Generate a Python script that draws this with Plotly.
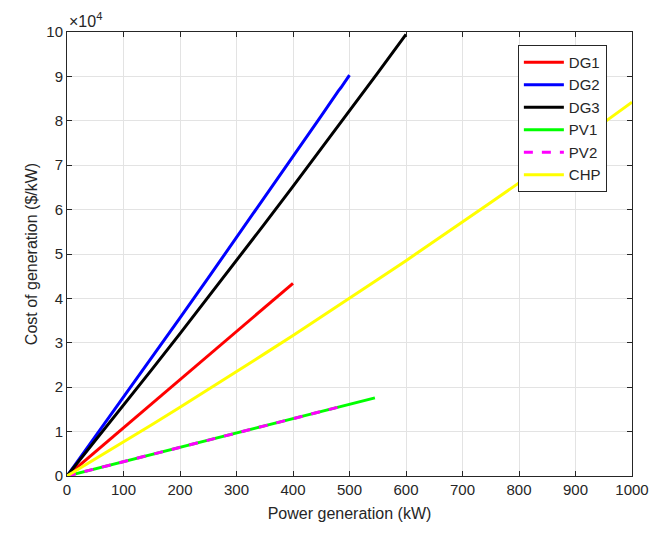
import plotly.graph_objects as go

# Generation cost curves, cost in $ vs. output power in kW
p_dg1 = [0, 50, 100, 150, 200, 250, 300, 350, 400]
c_dg1 = [0, 5400, 10800, 16200, 21600, 27100, 32500, 37900, 43400]

p_dg2 = [0, 50, 100, 150, 200, 250, 300, 350, 400, 450, 480, 485, 500]
c_dg2 = [0, 8840, 17720, 26640, 35610, 44620, 53670, 62770, 71910, 81090, 86700, 87500, 90300]

p_dg3 = [0, 50, 100, 150, 200, 250, 300, 350, 400, 450, 480, 485, 550, 600]
c_dg3 = [0, 7910, 15900, 23950, 32070, 40250, 48510, 56830, 65220, 73680, 78800, 79700, 90810, 99470]

p_pv1 = [0, 50, 100, 150, 200, 250, 300, 350, 400, 450, 470, 500, 545]
c_pv1 = [0, 1620, 3230, 4850, 6460, 8080, 9690, 11310, 12920, 14540, 15200, 16150, 17600]

p_pv2 = [0, 50, 100, 150, 200, 250, 300, 350, 400, 450, 470, 480]
c_pv2 = [0, 1620, 3230, 4850, 6460, 8080, 9690, 11310, 12920, 14540, 15200, 15500]

p_chp = [0, 50, 100, 150, 200, 250, 300, 350, 400, 450, 500, 550, 600, 650, 700,
         750, 800, 850, 900, 950, 1000]
c_chp = [0, 3810, 7660, 11560, 15500, 19480, 23500, 27560, 31660, 35810, 40000,
         44230, 48500, 52820, 57180, 61580, 66020, 70500, 75020, 79590, 84200]

x_ticks = list(range(0, 1001, 100))
y_ticks = list(range(0, 100001, 10000))
y_tick_text = [str(v // 10000) for v in y_ticks]

series = [
    ("DG1", p_dg1, c_dg1, "#ff0000", "solid"),
    ("DG2", p_dg2, c_dg2, "#0000ff", "solid"),
    ("DG3", p_dg3, c_dg3, "#000000", "solid"),
    ("PV1", p_pv1, c_pv1, "#00ff00", "solid"),
    ("PV2", p_pv2, c_pv2, "#ff00ff", "dash"),
    ("CHP", p_chp, c_chp, "#ffff00", "solid"),
]

fig = go.Figure()
for name, px, cy, color, dash in series:
    fig.add_trace(go.Scatter(
        x=px, y=cy, name=name, mode="lines",
        line=dict(color=color, width=3, dash=dash),
    ))

font = "Liberation Sans, Arial, Helvetica, sans-serif"
axis_common = dict(
    showline=True, linecolor="#262626", linewidth=1, mirror="ticks",
    ticks="inside", ticklen=5, tickcolor="#262626",
    showgrid=True, gridcolor="#e3e3e3", gridwidth=1,
    zeroline=False, tickfont=dict(family=font, size=15, color="#262626"),
)

fig.update_layout(
    width=668, height=536,
    margin=dict(l=67, r=36, t=32, b=60),
    paper_bgcolor="white", plot_bgcolor="white",
    font=dict(family=font, color="#262626"),
    xaxis=dict(
        range=[0, 1000], tickvals=x_ticks,
        title=dict(text="Power generation (kW)", font=dict(size=16), standoff=10),
        **axis_common,
    ),
    yaxis=dict(
        range=[0, 100000], tickvals=y_ticks, ticktext=y_tick_text,
        title=dict(text="Cost of generation ($/kW)", font=dict(size=16), standoff=4),
        **axis_common,
    ),
    legend=dict(
        x=0.798, y=0.971, xanchor="left", yanchor="top",
        bgcolor="white", bordercolor="#262626", borderwidth=1,
        font=dict(family=font, size=15, color="#262626"),
        tracegroupgap=0, itemwidth=40,
    ),
    showlegend=True,
    annotations=[dict(
        text="×10<sup>4</sup>", xref="paper", yref="paper", x=0.0, y=1.0,
        xanchor="left", yanchor="bottom", showarrow=False,
        font=dict(family=font, size=16, color="#262626"),
    )],
)

fig.write_html("out.html")
